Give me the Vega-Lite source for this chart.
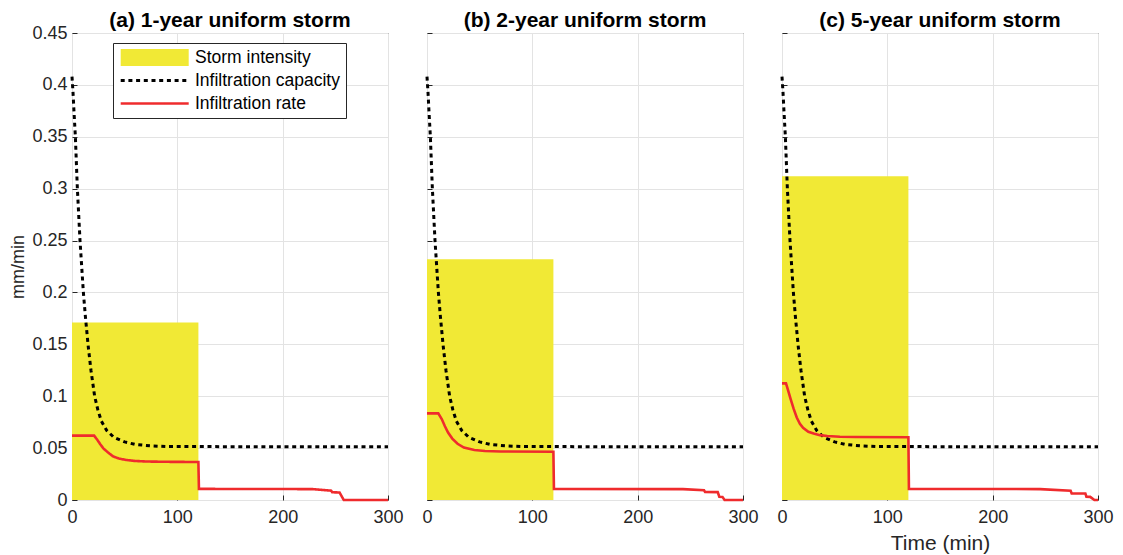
{
  "$schema": "https://vega.github.io/schema/vega-lite/v6.json",
  "padding": {"left": 9, "top": 9, "right": 5, "bottom": 0},
  "background": "white",
  "config": {
    "font": "Liberation Sans",
    "view": {"stroke": "#262626", "strokeWidth": 1},
    "concat": {"spacing": 39},
    "axis": {
      "domain": false,
      "grid": true,
      "gridColor": "#e3e3e3",
      "gridWidth": 1,
      "tickColor": "#262626",
      "tickSize": -5,
      "labelFont": "Liberation Sans",
      "labelFontSize": 18,
      "labelColor": "#262626",
      "titleFont": "Liberation Sans",
      "titleFontSize": 18,
      "titleFontWeight": "normal",
      "titleColor": "#262626"
    },
    "legend": {
      "orient": "none",
      "legendX": 41,
      "legendY": 10,
      "padding": 6,
      "fillColor": "white",
      "strokeColor": "#262626",
      "symbolType": "M-1.8,0H6.2",
      "symbolSize": 289,
      "clipHeight": 17,
      "labelOffset": 42,
      "rowPadding": 5,
      "labelFontSize": 17.5,
      "labelFont": "Liberation Sans",
      "labelColor": "#000000"
    },
    "title": {"font": "Liberation Sans", "fontSize": 21, "fontWeight": "bold", "color": "#000000", "offset": 2, "frame": "group"}
  },
  "bounds": "flush",
  "datasets": {
    "storm": [
      {"panel": "a", "t0": 0, "t1": 120, "v": 0.171},
      {"panel": "b", "t0": 0, "t1": 120, "v": 0.232},
      {"panel": "c", "t0": 0, "t1": 120, "v": 0.312}
    ],
    "capacity": [
      {"series": "Infiltration capacity", "t": 0, "v": 0.408},
      {"series": "Infiltration capacity", "t": 1, "v": 0.392},
      {"series": "Infiltration capacity", "t": 2, "v": 0.372},
      {"series": "Infiltration capacity", "t": 3.2, "v": 0.35},
      {"series": "Infiltration capacity", "t": 5.1, "v": 0.3},
      {"series": "Infiltration capacity", "t": 7.6, "v": 0.25},
      {"series": "Infiltration capacity", "t": 10.8, "v": 0.2},
      {"series": "Infiltration capacity", "t": 12.7, "v": 0.177},
      {"series": "Infiltration capacity", "t": 15.2, "v": 0.15},
      {"series": "Infiltration capacity", "t": 18, "v": 0.125},
      {"series": "Infiltration capacity", "t": 21.5, "v": 0.1},
      {"series": "Infiltration capacity", "t": 24.5, "v": 0.087},
      {"series": "Infiltration capacity", "t": 27.9, "v": 0.076},
      {"series": "Infiltration capacity", "t": 33, "v": 0.067},
      {"series": "Infiltration capacity", "t": 39.6, "v": 0.0605},
      {"series": "Infiltration capacity", "t": 50, "v": 0.056},
      {"series": "Infiltration capacity", "t": 60, "v": 0.0535},
      {"series": "Infiltration capacity", "t": 75, "v": 0.0522},
      {"series": "Infiltration capacity", "t": 90, "v": 0.0515},
      {"series": "Infiltration capacity", "t": 300, "v": 0.0512}
    ],
    "rate": [
      {"panel": "a", "series": "Infiltration rate", "t": 0, "v": 0.062},
      {"panel": "a", "series": "Infiltration rate", "t": 21, "v": 0.062},
      {"panel": "a", "series": "Infiltration rate", "t": 24, "v": 0.058},
      {"panel": "a", "series": "Infiltration rate", "t": 27, "v": 0.0535},
      {"panel": "a", "series": "Infiltration rate", "t": 30, "v": 0.0495},
      {"panel": "a", "series": "Infiltration rate", "t": 34, "v": 0.046},
      {"panel": "a", "series": "Infiltration rate", "t": 39, "v": 0.042},
      {"panel": "a", "series": "Infiltration rate", "t": 45, "v": 0.0398},
      {"panel": "a", "series": "Infiltration rate", "t": 52, "v": 0.0385},
      {"panel": "a", "series": "Infiltration rate", "t": 60, "v": 0.0376},
      {"panel": "a", "series": "Infiltration rate", "t": 70, "v": 0.0371},
      {"panel": "a", "series": "Infiltration rate", "t": 90, "v": 0.0368},
      {"panel": "a", "series": "Infiltration rate", "t": 120, "v": 0.0366},
      {"panel": "a", "series": "Infiltration rate", "t": 120.5, "v": 0.0107},
      {"panel": "a", "series": "Infiltration rate", "t": 228, "v": 0.0105},
      {"panel": "a", "series": "Infiltration rate", "t": 246, "v": 0.009},
      {"panel": "a", "series": "Infiltration rate", "t": 247, "v": 0.0075},
      {"panel": "a", "series": "Infiltration rate", "t": 254, "v": 0.0072},
      {"panel": "a", "series": "Infiltration rate", "t": 258, "v": 0},
      {"panel": "a", "series": "Infiltration rate", "t": 300, "v": 0},
      {"panel": "b", "series": "Infiltration rate", "t": 0, "v": 0.0835},
      {"panel": "b", "series": "Infiltration rate", "t": 10.7, "v": 0.0835},
      {"panel": "b", "series": "Infiltration rate", "t": 14, "v": 0.078},
      {"panel": "b", "series": "Infiltration rate", "t": 17, "v": 0.071},
      {"panel": "b", "series": "Infiltration rate", "t": 20, "v": 0.065},
      {"panel": "b", "series": "Infiltration rate", "t": 24, "v": 0.0592},
      {"panel": "b", "series": "Infiltration rate", "t": 29, "v": 0.0542},
      {"panel": "b", "series": "Infiltration rate", "t": 35, "v": 0.0505},
      {"panel": "b", "series": "Infiltration rate", "t": 45, "v": 0.0482},
      {"panel": "b", "series": "Infiltration rate", "t": 55, "v": 0.0472},
      {"panel": "b", "series": "Infiltration rate", "t": 70, "v": 0.0467},
      {"panel": "b", "series": "Infiltration rate", "t": 120, "v": 0.0465},
      {"panel": "b", "series": "Infiltration rate", "t": 120.5, "v": 0.0107},
      {"panel": "b", "series": "Infiltration rate", "t": 243, "v": 0.0105},
      {"panel": "b", "series": "Infiltration rate", "t": 263, "v": 0.0094},
      {"panel": "b", "series": "Infiltration rate", "t": 264, "v": 0.0078},
      {"panel": "b", "series": "Infiltration rate", "t": 276, "v": 0.0076},
      {"panel": "b", "series": "Infiltration rate", "t": 277.5, "v": 0.0032},
      {"panel": "b", "series": "Infiltration rate", "t": 280.5, "v": 0.003},
      {"panel": "b", "series": "Infiltration rate", "t": 282.5, "v": 0},
      {"panel": "b", "series": "Infiltration rate", "t": 300, "v": 0},
      {"panel": "c", "series": "Infiltration rate", "t": 0, "v": 0.1124},
      {"panel": "c", "series": "Infiltration rate", "t": 3.8, "v": 0.1124},
      {"panel": "c", "series": "Infiltration rate", "t": 6, "v": 0.105},
      {"panel": "c", "series": "Infiltration rate", "t": 8, "v": 0.098},
      {"panel": "c", "series": "Infiltration rate", "t": 11, "v": 0.088},
      {"panel": "c", "series": "Infiltration rate", "t": 14, "v": 0.0795},
      {"panel": "c", "series": "Infiltration rate", "t": 17, "v": 0.0735},
      {"panel": "c", "series": "Infiltration rate", "t": 20, "v": 0.0695},
      {"panel": "c", "series": "Infiltration rate", "t": 25, "v": 0.0658},
      {"panel": "c", "series": "Infiltration rate", "t": 30, "v": 0.0640},
      {"panel": "c", "series": "Infiltration rate", "t": 36, "v": 0.0625},
      {"panel": "c", "series": "Infiltration rate", "t": 43, "v": 0.0617},
      {"panel": "c", "series": "Infiltration rate", "t": 55, "v": 0.0610},
      {"panel": "c", "series": "Infiltration rate", "t": 70, "v": 0.0607},
      {"panel": "c", "series": "Infiltration rate", "t": 120, "v": 0.0604},
      {"panel": "c", "series": "Infiltration rate", "t": 120.5, "v": 0.0107},
      {"panel": "c", "series": "Infiltration rate", "t": 245, "v": 0.0105},
      {"panel": "c", "series": "Infiltration rate", "t": 274, "v": 0.009},
      {"panel": "c", "series": "Infiltration rate", "t": 275, "v": 0.0064},
      {"panel": "c", "series": "Infiltration rate", "t": 288, "v": 0.0063},
      {"panel": "c", "series": "Infiltration rate", "t": 289, "v": 0.0032},
      {"panel": "c", "series": "Infiltration rate", "t": 292.6, "v": 0.003},
      {"panel": "c", "series": "Infiltration rate", "t": 296.6, "v": 0},
      {"panel": "c", "series": "Infiltration rate", "t": 300, "v": 0}
    ]
  },
  "resolve": {"scale": {"stroke": "independent", "strokeDash": "independent", "strokeWidth": "independent"}},
  "hconcat": [
    {
      "width": 316,
      "height": 467,
      "title": {"text": "(a) 1-year uniform storm", "offset": -7},
      "layer": [
        {
          "data": {"name": "storm"},
          "transform": [{"filter": "datum.panel === 'a'"}],
          "mark": {"type": "rect", "color": "#f1e935", "opacity": 1},
          "encoding": {
            "x": {"field": "t0", "type": "quantitative", "scale": {"domain": [0, 300], "nice": false}, "axis": {"values": [0, 100, 200, 300], "title": null, "labelPadding": 13, "labelFlush": false}},
            "x2": {"field": "t1"},
            "y": {"field": "v", "type": "quantitative", "scale": {"domain": [0, 0.45], "nice": false}, "axis": {"values": [0, 0.05, 0.1, 0.15, 0.2, 0.25, 0.3, 0.35, 0.4, 0.45], "format": "~g", "title": "mm/min", "titlePadding": 4, "labelPadding": 10}},
            "y2": {"datum": 0}
          }
        },
        {
          "data": {"name": "capacity"},
          "mark": {"type": "line", "strokeCap": "butt"},
          "encoding": {
            "x": {"field": "t", "type": "quantitative"},
            "y": {"field": "v", "type": "quantitative"},
            "stroke": {"field": "series", "type": "nominal", "scale": {"domain": ["Storm intensity", "Infiltration capacity", "Infiltration rate"], "range": ["#f1e935", "#000000", "#ef2b2d"]}, "legend": {"title": null}},
            "strokeDash": {"field": "series", "type": "nominal", "scale": {"domain": ["Storm intensity", "Infiltration capacity", "Infiltration rate"], "range": [[1, 0], [4, 3.7], [1, 0]]}, "legend": {"title": null}},
            "strokeWidth": {"field": "series", "type": "nominal", "scale": {"type": "ordinal", "domain": ["Storm intensity", "Infiltration capacity", "Infiltration rate"], "range": [17, 3, 2.6]}, "legend": {"title": null}}
          }
        },
        {
          "data": {"name": "rate"},
          "transform": [{"filter": "datum.panel === 'a'"}],
          "mark": {"type": "line"},
          "encoding": {
            "x": {"field": "t", "type": "quantitative"},
            "y": {"field": "v", "type": "quantitative"},
            "stroke": {"field": "series", "type": "nominal", "scale": {"domain": ["Storm intensity", "Infiltration capacity", "Infiltration rate"], "range": ["#f1e935", "#000000", "#ef2b2d"]}, "legend": {"title": null}},
            "strokeDash": {"field": "series", "type": "nominal", "scale": {"domain": ["Storm intensity", "Infiltration capacity", "Infiltration rate"], "range": [[1, 0], [4, 3.7], [1, 0]]}, "legend": {"title": null}},
            "strokeWidth": {"field": "series", "type": "nominal", "scale": {"type": "ordinal", "domain": ["Storm intensity", "Infiltration capacity", "Infiltration rate"], "range": [17, 3, 2.6]}, "legend": {"title": null}}
          }
        }
      ]
    },
    {
      "width": 316,
      "height": 467,
      "title": "(b) 2-year uniform storm",
      "layer": [
        {
          "data": {"name": "storm"},
          "transform": [{"filter": "datum.panel === 'b'"}],
          "mark": {"type": "rect", "color": "#f1e935", "opacity": 1},
          "encoding": {
            "x": {"field": "t0", "type": "quantitative", "scale": {"domain": [0, 300], "nice": false}, "axis": {"values": [0, 100, 200, 300], "title": null, "labelPadding": 13, "labelFlush": false}},
            "x2": {"field": "t1"},
            "y": {"field": "v", "type": "quantitative", "scale": {"domain": [0, 0.45], "nice": false}, "axis": {"values": [0, 0.05, 0.1, 0.15, 0.2, 0.25, 0.3, 0.35, 0.4, 0.45], "labels": false, "title": null}},
            "y2": {"datum": 0}
          }
        },
        {
          "data": {"name": "capacity"},
          "mark": {"type": "line", "strokeCap": "butt", "color": "#000000", "strokeWidth": 3, "strokeDash": [4, 3.7]},
          "encoding": {
            "x": {"field": "t", "type": "quantitative"},
            "y": {"field": "v", "type": "quantitative"}
          }
        },
        {
          "data": {"name": "rate"},
          "transform": [{"filter": "datum.panel === 'b'"}],
          "mark": {"type": "line", "color": "#ef2b2d", "strokeWidth": 2.6},
          "encoding": {
            "x": {"field": "t", "type": "quantitative"},
            "y": {"field": "v", "type": "quantitative"}
          }
        }
      ]
    },
    {
      "width": 316,
      "height": 467,
      "title": "(c) 5-year uniform storm",
      "layer": [
        {
          "data": {"name": "storm"},
          "transform": [{"filter": "datum.panel === 'c'"}],
          "mark": {"type": "rect", "color": "#f1e935", "opacity": 1},
          "encoding": {
            "x": {"field": "t0", "type": "quantitative", "scale": {"domain": [0, 300], "nice": false}, "axis": {"values": [0, 100, 200, 300], "title": "Time (min)", "titleFontSize": 21, "titlePadding": 6, "labelPadding": 13, "labelFlush": false}},
            "x2": {"field": "t1"},
            "y": {"field": "v", "type": "quantitative", "scale": {"domain": [0, 0.45], "nice": false}, "axis": {"values": [0, 0.05, 0.1, 0.15, 0.2, 0.25, 0.3, 0.35, 0.4, 0.45], "labels": false, "title": null}},
            "y2": {"datum": 0}
          }
        },
        {
          "data": {"name": "capacity"},
          "mark": {"type": "line", "strokeCap": "butt", "color": "#000000", "strokeWidth": 3, "strokeDash": [4, 3.7]},
          "encoding": {
            "x": {"field": "t", "type": "quantitative"},
            "y": {"field": "v", "type": "quantitative"}
          }
        },
        {
          "data": {"name": "rate"},
          "transform": [{"filter": "datum.panel === 'c'"}],
          "mark": {"type": "line", "color": "#ef2b2d", "strokeWidth": 2.6},
          "encoding": {
            "x": {"field": "t", "type": "quantitative"},
            "y": {"field": "v", "type": "quantitative"}
          }
        }
      ]
    }
  ]
}
